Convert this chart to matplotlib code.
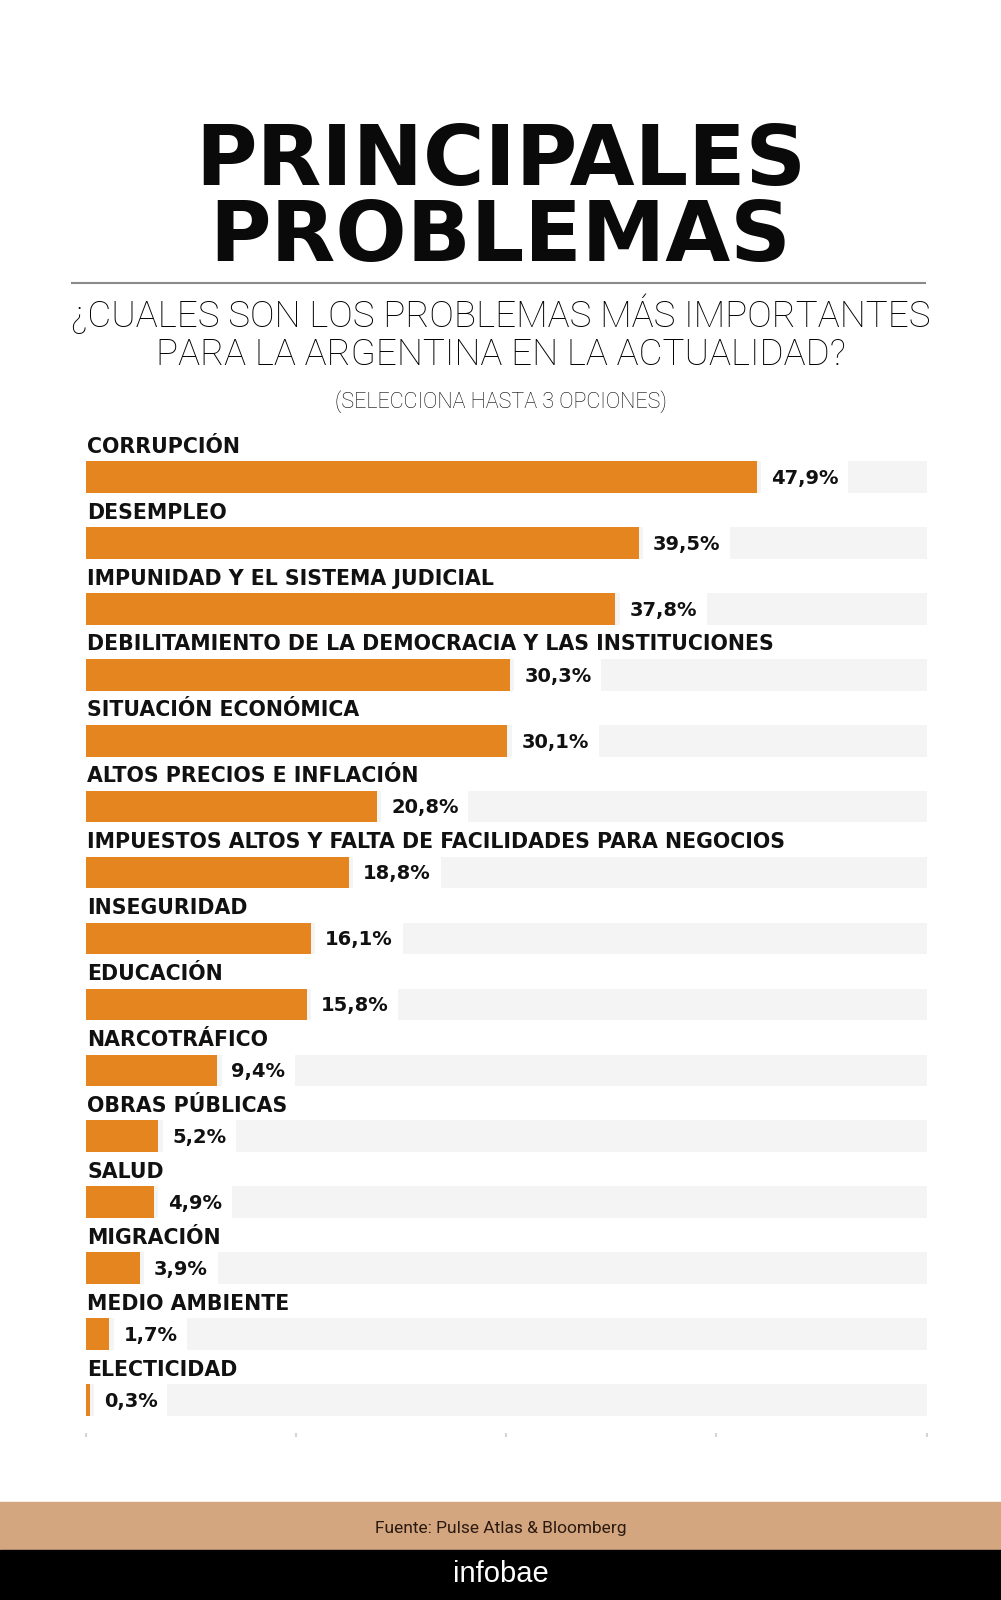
import matplotlib.pyplot as plt
from matplotlib.patches import Rectangle
from matplotlib.lines import Line2D

W, H = 1001, 1600

categories = ['CORRUPCIÓN', 'DESEMPLEO', 'IMPUNIDAD Y EL SISTEMA JUDICIAL',
              'DEBILITAMIENTO DE LA DEMOCRACIA Y LAS INSTITUCIONES',
              'SITUACIÓN ECONÓMICA', 'ALTOS PRECIOS E INFLACIÓN',
              'IMPUESTOS ALTOS Y FALTA DE FACILIDADES PARA NEGOCIOS',
              'INSEGURIDAD', 'EDUCACIÓN', 'NARCOTRÁFICO', 'OBRAS PÚBLICAS',
              'SALUD', 'MIGRACIÓN', 'MEDIO AMBIENTE', 'ELECTICIDAD']
values = [47.9, 39.5, 37.8, 30.3, 30.1, 20.8, 18.8, 16.1, 15.8, 9.4, 5.2, 4.9, 3.9, 1.7, 0.3]
xmax = 60
xticks = [0, 15, 30, 45, 60]

orange = '#E5851F'
track = '#F4F4F4'

def fx(px):
    return px / W

def fy(py):
    return 1 - py / H

fig = plt.figure(figsize=(W / 100, H / 100), dpi=100)
fig.patch.set_facecolor('white')

# title block
fig.text(0.5, fy(161), 'PRINCIPALES', ha='center', va='center', fontsize=60.5,
         fontweight='bold', family='DejaVu Sans', color='#0a0a0a')
fig.text(0.5, fy(237), 'PROBLEMAS', ha='center', va='center', fontsize=60.5,
         fontweight='bold', family='DejaVu Sans', color='#0a0a0a')
fig.add_artist(Line2D([fx(72), fx(925)], [fy(283), fy(283)], color='#8a8a8a', lw=1.5))
fig.text(0.5, fy(315), '¿CUALES SON LOS PROBLEMAS MÁS IMPORTANTES', ha='center', va='center',
         fontsize=26.5, fontweight='light', family='Roboto', color='black')
fig.text(0.5, fy(355), 'PARA LA ARGENTINA EN LA ACTUALIDAD?', ha='center', va='center',
         fontsize=26.5, fontweight='light', family='Roboto', color='black')
fig.text(0.5, fy(402), '(SELECCIONA HASTA 3 OPCIONES)', ha='center', va='center',
         fontsize=15.5, fontweight='light', family='Roboto', color='black')

# bars
n = len(values)
top, bottom = 444, 1433
ax = fig.add_axes([fx(85.5), fy(bottom), fx(926.5) - fx(85.5), (bottom - top) / H])
ys = list(range(n))
ax.barh(ys, [xmax] * n, height=0.48, color=track, zorder=1)
ax.barh(ys, values, height=0.48, color=orange, zorder=2)
for i, (cat, v) in enumerate(zip(categories, values)):
    ax.text(0.12, i - 0.46, cat, ha='left', va='center', fontsize=14.8,
            fontweight='bold', family='DejaVu Sans', color='#111111', clip_on=False)
    ax.text(v + 1.0, i + 0.02, f'{v:.1f}%'.replace('.', ','), ha='left', va='center',
            fontsize=14, fontweight='bold', family='DejaVu Sans', color='#111111', zorder=3,
            bbox=dict(boxstyle='square,pad=0.5', fc='white', ec='none'))
ax.set_xlim(0, xmax)
ax.set_ylim(n - 0.5, -0.5)
ax.set_yticks([])
ax.set_xticks(xticks)
ax.tick_params(axis='x', length=3, width=1.5, color='#d5d5d5', labelbottom=False)
for s in ax.spines.values():
    s.set_visible(False)

# footer
fig.add_artist(Rectangle((0, fy(1550)), 1, (1550 - 1502) / H, transform=fig.transFigure,
                         color='#D4A680', zorder=0))
fig.add_artist(Rectangle((0, 0), 1, 50 / H, transform=fig.transFigure, color='black', zorder=0))
fig.text(0.5, fy(1528), 'Fuente: Pulse Atlas & Bloomberg', ha='center', va='center',
         fontsize=12.5, family='Roboto', color='#2a1a10')
fig.text(0.5, fy(1574), 'infobae', ha='center', va='center', fontsize=21,
         family='Liberation Sans', color='white')

fig.savefig('out.png', dpi=100)
